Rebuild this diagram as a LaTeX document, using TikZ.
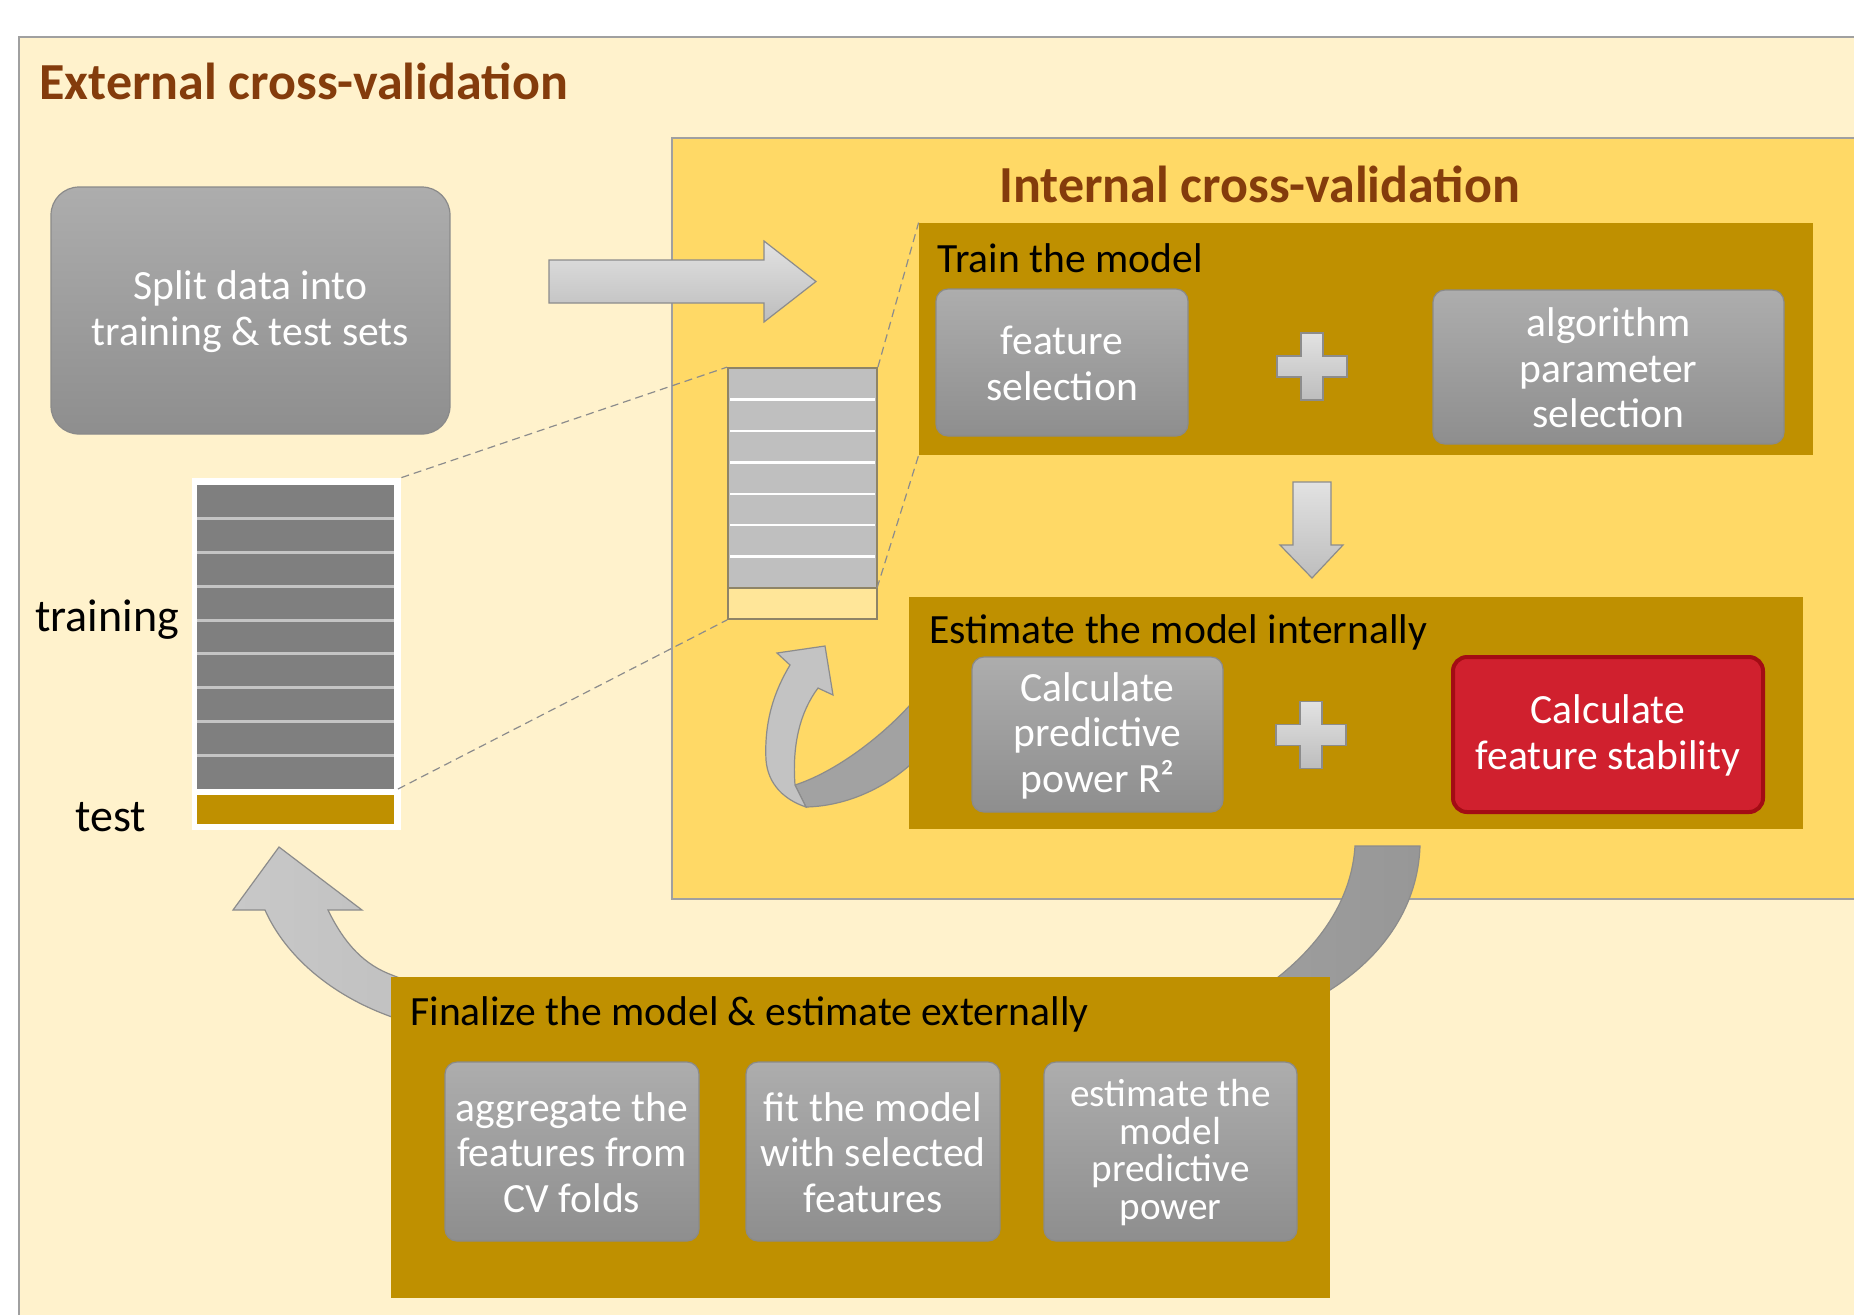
\documentclass[tikz,border=0pt]{standalone}
\usepackage{fontspec}
\setmainfont{Carlito}
\usetikzlibrary{fit}

\definecolor{cream}{HTML}{FFF2CC}
\definecolor{sun}{HTML}{FFD966}
\definecolor{gold}{HTML}{BF9000}
\definecolor{rust}{HTML}{843C0C}
\definecolor{framegray}{HTML}{A0A0A0}
\definecolor{boxtop}{HTML}{ADADAD}
\definecolor{boxbot}{HTML}{8E8E8E}
\definecolor{boxedge}{HTML}{8A8A8A}
\definecolor{lighttop}{HTML}{E2E2E2}
\definecolor{lightbot}{HTML}{BDBDBD}
\definecolor{arrowedge}{HTML}{8C8C8C}
\definecolor{stackdark}{HTML}{7F7F7F}
\definecolor{stacksep}{HTML}{C4C4C4}
\definecolor{stacklight}{HTML}{BFBFBF}
\definecolor{stackedge}{HTML}{8E8467}
\definecolor{pale}{HTML}{FFE699}
\definecolor{alert}{HTML}{D0202E}
\definecolor{alertedge}{HTML}{A30C14}
\definecolor{dashgray}{HTML}{8C8C8C}
\definecolor{uleft}{HTML}{C8C8C8}
\definecolor{uright}{HTML}{979797}
\definecolor{loopface}{HTML}{C3C3C3}
\definecolor{loopback}{HTML}{A2A2A2}

\newcommand\cvbody{\fontsize{20.8}{22.7}\selectfont}
\newcommand\cvhead{\fontsize{26}{30}\selectfont\bfseries}
\newcommand\cvlabel{\fontsize{23}{26}\selectfont}

\begin{document}
\begin{tikzpicture}[
  x=0.5pt, y=-0.5pt,
  panel/.style={inner sep=0pt, fill=#1},
  graybox/.style={draw=boxedge, line width=0.6pt, rounded corners=6pt,
    top color=boxtop, bottom color=boxbot, inner sep=0pt},
  boxlabel/.style={text=white, align=center, inner sep=0pt, font=\cvbody, yshift=-0.5pt},
  heading/.style={font=\cvhead, text=rust, anchor=base west, inner sep=0pt},
  panelhead/.style={font=\cvbody, text=black, anchor=base west, inner sep=0pt},
  sidelabel/.style={font=\cvlabel, text=black, anchor=base west, inner sep=0pt},
  blockarrow/.style={draw=arrowedge, line width=0.6pt, top color=lighttop, bottom color=lightbot},
  dashline/.style={draw=dashgray, line width=0.6pt, dash pattern=on 4pt off 2.5pt},
  plussign/.pic={
    \draw[blockarrow] (-35,-10.5) -- (-11,-10.5) -- (-11,-33.5) -- (11,-33.5)
      -- (11,-10.5) -- (35,-10.5) -- (35,10.5) -- (11,10.5) -- (11,33.5)
      -- (-11,33.5) -- (-11,10.5) -- (-35,10.5) -- cycle;
  }
]
\useasboundingbox (0,0) rectangle (1854,1314);
\clip (0,0) rectangle (1854,1314);
\fill[white] (0,0) rectangle (1854,1314);

% outer panel: external cross-validation
\node[panel=cream, draw=framegray, line width=0.6pt, fit={(19,37) (1900,1360)}] (external) {};
\node[heading] (externaltitle) at (39,99) {External cross-validation};

% inner panel: internal cross-validation
\node[panel=sun, draw=framegray, line width=0.6pt, fit={(672,138) (1900,899)}] (internal) {};
\node[heading] (internaltitle) at (999,202) {Internal cross-validation};

% splitting step
\node[graybox, rounded corners=14pt, fit={(51,187) (450,434)}] (split) {};
\node[boxlabel] (splittext) at (split.center) {Split data into\\training \& test sets};

% full data set: training folds and test part
\node[panel=white, fit={(192,478) (401,830)}] (bigstack) {};
\fill[stackdark] (197,485) rectangle (394,789);
\foreach \k in {1,...,8}
  \draw[stacksep, line width=1.5pt] (197,{485+33.78*\k}) -- (394,{485+33.78*\k});
\node[panel=gold, fit={(197,795) (394,824)}] (testbar) {};
\coordinate (bigtrainSE) at (398,789);
\node[sidelabel] (traininglabel) at (35,631) {training};
\node[sidelabel] (testlabel) at (75,831) {test};

% training part split again for the inner loop
\fill[stacklight] (728,368) rectangle (877,588);
\fill[pale] (728,588) rectangle (877,619);
\foreach \k in {1,...,6}
  \draw[white, line width=1.2pt] (730,{368+31.43*\k}) -- (875,{368+31.43*\k});
\draw[stackedge, line width=0.9pt] (728,588) -- (877,588);
\node[inner sep=0pt, draw=stackedge, line width=0.9pt, fit={(728,368) (877,619)}] (smallstack) {};
\coordinate (smallgraySE) at (877,588);

% train panel
\node[panel=gold, fit={(919,223) (1813,455)}] (train) {};
\node[panelhead] (traintitle) at (937,272) {Train the model};
\node[graybox, fit={(936,289) (1188,436)}] (featsel) {};
\node[boxlabel] (featseltext) at (featsel.center) {feature\\selection};
\pic at (1312,366.5) {plussign};
\node[graybox, fit={(1433,290) (1784,444)}] (algsel) {};
\node[boxlabel] (algseltext) at (algsel.center) {algorithm\\parameter\\selection};

% zoom guides
\draw[dashline] (bigstack.north east) -- (smallstack.north west);
\draw[dashline] (bigtrainSE) -- (smallstack.south west);
\draw[dashline] (smallstack.north east) -- (train.north west);
\draw[dashline] (smallgraySE) -- (train.south west);

% arrow from splitting into the inner loop
\draw[blockarrow] (549,260) -- (764,260) -- (764,241) -- (816,281.5)
  -- (764,322) -- (764,303) -- (549,303) -- cycle;

% arrow from training to internal estimation
\draw[blockarrow] (1293,482) -- (1331,482) -- (1331,545) -- (1343,545)
  -- (1312,578) -- (1280,545) -- (1293,545) -- cycle;

% loop arrow back to the folds
\draw[draw=arrowedge, line width=0.6pt, fill=loopback]
  (795,785) .. controls (835,772) and (880,738) .. (910,705)
  -- (935,700) -- (935,770) -- (910,765)
  .. controls (885,787) and (848,806) .. (806,807) -- cycle;
\draw[draw=arrowedge, line width=0.6pt, fill=loopface]
  (825,646) -- (833,695) -- (818,688)
  .. controls (800,712) and (792,745) .. (795,785)
  -- (806,807)
  .. controls (785,800) and (768,785) .. (766,760)
  .. controls (764,720) and (775,690) .. (790,665)
  -- (777,653) -- cycle;

% estimate panel
\node[panel=gold, fit={(909,597) (1803,829)}] (estimate) {};
\node[panelhead] (estimatetitle) at (929,643) {Estimate the model internally};
\node[graybox, fit={(972,657) (1223,812)}] (predpower) {};
\node[boxlabel] (predpowertext) at (predpower.center) {Calculate\\predictive\\power R²};
\pic at (1311,735) {plussign};
\node[inner sep=0pt, rounded corners=7pt, fill=alert, draw=alertedge, line width=2pt,
  fit={(1453,657) (1763,812)}] (stability) {};
\node[boxlabel] (stabilitytext) at (stability.center) {Calculate\\feature stability};

% outer loop arrow, running behind the final panel
\draw[draw=arrowedge, line width=0.6pt, left color=uleft, right color=uright]
  (279,847) -- (362,910) -- (328,910)
  .. controls (345,945) and (365,965) .. (392,975)
  -- (430,990) -- (1240,990) -- (1277,978)
  .. controls (1325,940) and (1352,895) .. (1355,846)
  -- (1420,846)
  .. controls (1418,905) and (1385,955) .. (1330,990)
  -- (1290,1015) -- (430,1035) -- (392,1017)
  .. controls (330,995) and (285,955) .. (265,910)
  -- (233,910) -- cycle;

% finalize panel
\node[panel=gold, fit={(391,977) (1330,1298)}] (finalize) {};
\node[panelhead] (finalizetitle) at (410,1025) {Finalize the model \& estimate externally};
\node[graybox, fit={(445,1062) (699,1241)}] (aggregate) {};
\node[boxlabel] (aggregatetext) at (aggregate.center) {aggregate the\\features from\\CV folds};
\node[graybox, fit={(746,1062) (1000,1241)}] (fitmodel) {};
\node[boxlabel] (fitmodeltext) at (fitmodel.center) {fit the model\\with selected\\features};
\node[graybox, fit={(1044,1062) (1297,1241)}] (extestimate) {};
\node[boxlabel, font=\fontsize{19.6}{18.7}\selectfont] (extestimatetext) at (extestimate.center)
  {estimate the\\model\\predictive\\power};
\end{tikzpicture}
\end{document}
